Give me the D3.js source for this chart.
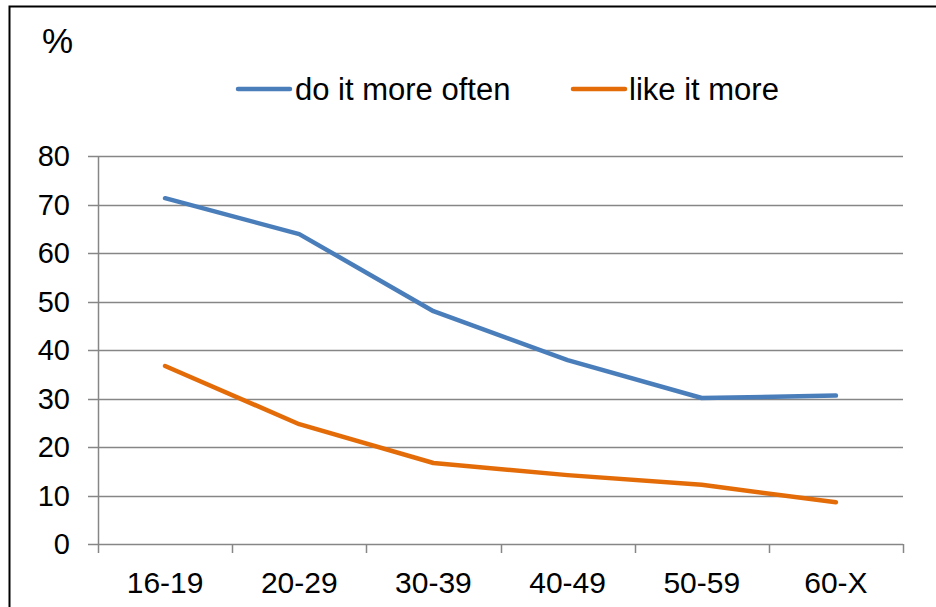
<!DOCTYPE html>
<html>
<head>
<meta charset="utf-8">
<script src="https://cdn.jsdelivr.net/npm/d3@7"></script>
<style>
  html, body { margin: 0; padding: 0; background: #fff; }
  svg { display: block; font-family: "Liberation Sans", Arial, sans-serif; }
</style>
</head>
<body>
<svg id="chart" width="936" height="607"></svg>
<script>
// Age groups along the x axis
const ageGroups = ["16-19", "20-29", "30-39", "40-49", "50-59", "60-X"];
// Share of respondents (%) per age group
const doItMoreOften = [71.3, 63.9, 48.0, 37.9, 30.1, 30.6];
const likeItMore = [36.7, 24.7, 16.7, 14.2, 12.2, 8.6];
const yTicks = [0, 10, 20, 30, 40, 50, 60, 70, 80];

const seriesList = [
  { name: "do it more often", values: doItMoreOften, color: "#4A7EBB" },
  { name: "like it more", values: likeItMore, color: "#E36C09" }
];

const svg = d3.select("#chart");
const plot = { left: 98, right: 903, top: 156, bottom: 544 };

// Outer frame
svg.append("rect")
  .attr("x", 9.5).attr("y", 6.5)
  .attr("width", 940).attr("height", 620)
  .attr("fill", "none").attr("stroke", "#000").attr("stroke-width", 2);

const x = d3.scaleBand().domain(ageGroups).range([plot.left, plot.right]).padding(0);
const y = d3.scaleLinear().domain([0, 80]).range([plot.bottom, plot.top]);

// Horizontal gridlines
svg.append("g")
  .selectAll("line")
  .data(yTicks)
  .join("line")
  .attr("x1", plot.left - 10).attr("x2", plot.right)
  .attr("y1", d => Math.round(y(d)) + 0.5).attr("y2", d => Math.round(y(d)) + 0.5)
  .attr("stroke", "#868686").attr("stroke-width", 1.5);

// Y axis line
svg.append("line")
  .attr("x1", plot.left + 0.5).attr("x2", plot.left + 0.5)
  .attr("y1", plot.top).attr("y2", plot.bottom)
  .attr("stroke", "#868686").attr("stroke-width", 1.5);

// Y tick labels
svg.append("g")
  .selectAll("text")
  .data(yTicks)
  .join("text")
  .attr("x", 70).attr("y", d => y(d))
  .attr("dy", "0.36em")
  .attr("text-anchor", "end")
  .attr("font-size", 29)
  .attr("fill", "#000")
  .text(d => d);

// X axis category ticks at band boundaries
const bounds = ageGroups.map(d => x(d)).concat([plot.right]);
svg.append("g")
  .selectAll("line")
  .data(bounds)
  .join("line")
  .attr("x1", d => Math.round(d) + 0.5).attr("x2", d => Math.round(d) + 0.5)
  .attr("y1", plot.bottom).attr("y2", plot.bottom + 9)
  .attr("stroke", "#868686").attr("stroke-width", 1.5);

// X tick labels
svg.append("g")
  .selectAll("text")
  .data(ageGroups)
  .join("text")
  .attr("x", d => x(d) + x.bandwidth() / 2)
  .attr("y", 593)
  .attr("text-anchor", "middle")
  .attr("font-size", 30)
  .attr("fill", "#000")
  .text(d => d);

// Series lines
const line = d3.line()
  .x((d, i) => x(ageGroups[i]) + x.bandwidth() / 2)
  .y(d => y(d));

svg.append("g")
  .selectAll("path")
  .data(seriesList)
  .join("path")
  .attr("d", s => line(s.values))
  .attr("fill", "none")
  .attr("stroke", s => s.color)
  .attr("stroke-width", 4.5)
  .attr("stroke-linejoin", "round")
  .attr("stroke-linecap", "round");

// Unit label
svg.append("text")
  .attr("x", 42).attr("y", 53)
  .attr("font-size", 35)
  .attr("fill", "#000")
  .text("%");

// Legend
const legendItems = [
  { sx: 238, tx: 295 },
  { sx: 573, tx: 629 }
];
const legend = svg.append("g")
  .selectAll("g")
  .data(seriesList)
  .join("g");
legend.append("line")
  .attr("x1", (d, i) => legendItems[i].sx)
  .attr("x2", (d, i) => legendItems[i].sx + 52)
  .attr("y1", 89).attr("y2", 89)
  .attr("stroke", d => d.color)
  .attr("stroke-width", 4.5)
  .attr("stroke-linecap", "round");
legend.append("text")
  .attr("x", (d, i) => legendItems[i].tx)
  .attr("y", 100)
  .attr("font-size", 31)
  .attr("fill", "#000")
  .text(d => d.name);
</script>
</body>
</html>
